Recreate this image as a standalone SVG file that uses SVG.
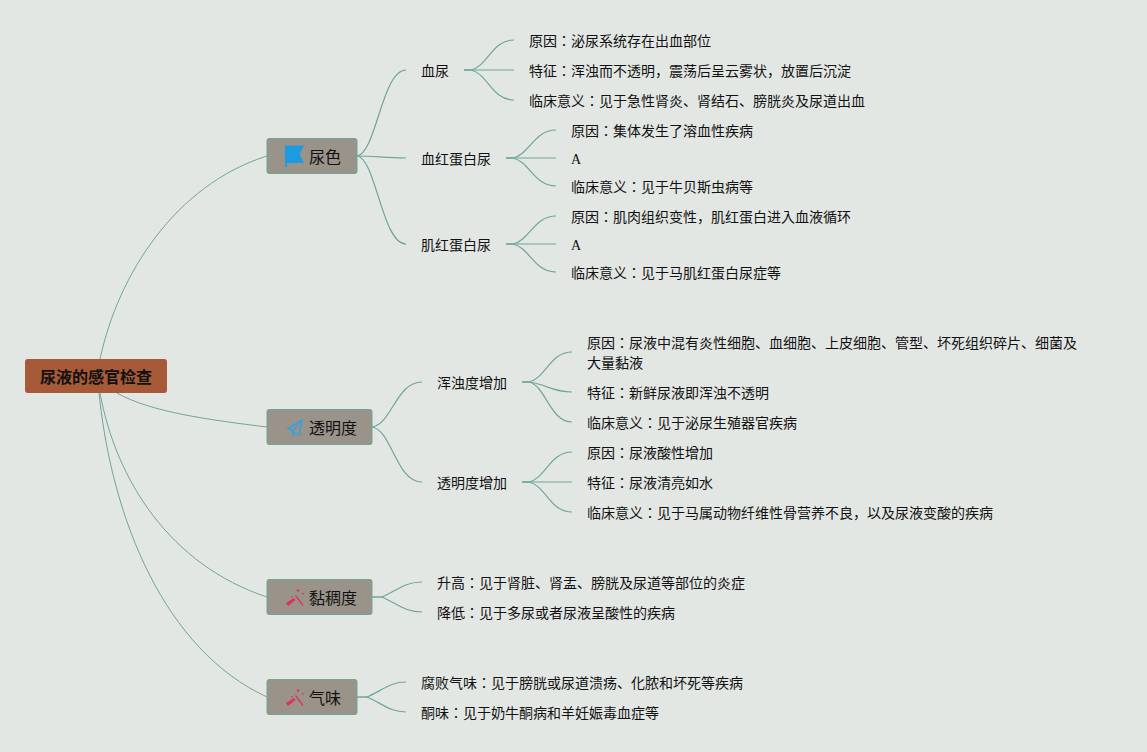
<svg xmlns="http://www.w3.org/2000/svg" width="1147" height="752" viewBox="0 0 1147 752">
<style>
text{font-family:"Liberation Serif","Noto Sans CJK JP",serif;fill:#111}
.t{font-size:14px}
.n{font-size:16px}
.r{font-size:16px;font-weight:bold}
.box{fill:#99938a;stroke:#6fa597;stroke-width:1}
.root{fill:#a65a38}
#connectors path{fill:none;stroke:#6fa597;stroke-width:1.2}
#connectors .m{stroke-width:1}
</style>
<rect width="1147" height="752" fill="#e3e7e4"/>
<g id="connectors">
<path class="m" d="M100 359C118 275 175 185 267 156"/>
<path class="m" d="M117 393C150 412 210 420 267 427"/>
<path class="m" d="M100 393C116 480 170 565 267 597"/>
<path class="m" d="M99 393C112 520 165 650 267 697"/>
<path d="M357 156C376 154 382 70 406 70"/>
<path d="M357 156C375 156 385 158 406 158"/>
<path d="M357 156C376 158 382 244 406 244"/>
<path d="M372 427C392 424 396 382 422 382"/>
<path d="M372 427C392 430 396 482 422 482"/>
<path d="M372 597H382C398 590 405 582 422 582"/>
<path d="M372 597H382C398 604 405 612 422 612"/>
<path d="M357 697H367C383 690 390 682 406 682"/>
<path d="M357 697H367C383 704 390 712 406 712"/>
<path d="M464 70H471C488 66 492 40 514 40"/>
<path d="M464 70H514"/>
<path d="M464 70H471C488 74 492 100 514 100"/>
<path d="M506 158H513C530 154 534 130 556 130"/>
<path d="M506 158H556"/>
<path d="M506 158H513C530 162 534 186 556 186"/>
<path d="M506 244H513C530 240 534 216 556 216"/>
<path d="M506 244H556"/>
<path d="M506 244H513C530 248 534 272 556 272"/>
<path d="M522 382H529C546 378 550 352 572 352"/>
<path d="M522 382H529C546 384 552 392 572 392"/>
<path d="M522 382H529C546 386 550 422 572 422"/>
<path d="M522 482H529C546 478 550 452 572 452"/>
<path d="M522 482H572"/>
<path d="M522 482H529C546 486 550 512 572 512"/>
</g>
<g id="root"><rect class="root" x="25" y="359" width="142" height="34" rx="3"/><text class="r" x="96" y="383" text-anchor="middle">尿液的感官检查</text></g>
<g id="n-color"><rect class="box" x="267" y="138.500" width="90" height="35" rx="2"/>
<path d="M285 145.500H304L299.500 154L304 163H287V167H285Z" fill="#1d9be0"/><text class="n" x="309" y="163">尿色</text></g>
<g id="n-trans"><rect class="box" x="267" y="409.500" width="105" height="35" rx="2"/>
<path d="M303 418.500L286 428.500L291.500 431.500L293 437L296 433.500L300 436Z M300 422.500L290 428.200L292 429.500ZM300.500 423.500L293.500 431L294 433.500L295.500 432L298.800 433.500Z" fill="#3f9fd0" fill-rule="evenodd"/><text class="n" x="309" y="434">透明度</text></g>
<g id="n-visc"><rect class="box" x="267" y="579.500" width="105" height="35" rx="2"/>
<path d="M286 603L294 598L295.500 600L288 606ZM296 595L303.500 605L302.500 606L295 596ZM297.500 589l2 1l-1 2l-2-1ZM302 593l1.500 0l0 1.500l-1.500 0ZM291 596l1.500 0l0 1.500l-1.500 0Z" fill="#e0305f"/><text class="n" x="309" y="604">黏稠度</text></g>
<g id="n-smell"><rect class="box" x="267" y="679.500" width="90" height="35" rx="2"/>
<path d="M286 703L294 698L295.500 700L288 706ZM296 695L303.500 705L302.500 706L295 696ZM297.500 689l2 1l-1 2l-2-1ZM302 693l1.500 0l0 1.500l-1.500 0ZM291 696l1.500 0l0 1.500l-1.500 0Z" fill="#e0305f"/><text class="n" x="309" y="704">气味</text></g>
<g id="labels">
<text class="t" x="421" y="76">血尿</text>
<text class="t" x="529" y="46">原因：泌尿系统存在出血部位</text>
<text class="t" x="529" y="76">特征：浑浊而不透明，震荡后呈云雾状，放置后沉淀</text>
<text class="t" x="529" y="106">临床意义：见于急性肾炎、肾结石、膀胱炎及尿道出血</text>
<text class="t" x="421" y="164">血红蛋白尿</text>
<text class="t" x="571" y="136">原因：集体发生了溶血性疾病</text>
<text class="t" x="571" y="164">A</text>
<text class="t" x="571" y="192">临床意义：见于牛贝斯虫病等</text>
<text class="t" x="421" y="250">肌红蛋白尿</text>
<text class="t" x="571" y="222">原因：肌肉组织变性，肌红蛋白进入血液循环</text>
<text class="t" x="571" y="250">A</text>
<text class="t" x="571" y="278">临床意义：见于马肌红蛋白尿症等</text>
<text class="t" x="437" y="388">浑浊度增加</text>
<text class="t" x="587" y="348">原因：尿液中混有炎性细胞、血细胞、上皮细胞、管型、坏死组织碎片、细菌及</text>
<text class="t" x="587" y="368">大量黏液</text>
<text class="t" x="587" y="398">特征：新鲜尿液即浑浊不透明</text>
<text class="t" x="587" y="428">临床意义：见于泌尿生殖器官疾病</text>
<text class="t" x="437" y="488">透明度增加</text>
<text class="t" x="587" y="458">原因：尿液酸性增加</text>
<text class="t" x="587" y="488">特征：尿液清亮如水</text>
<text class="t" x="587" y="518">临床意义：见于马属动物纤维性骨营养不良，以及尿液变酸的疾病</text>
<text class="t" x="437" y="588">升高：见于肾脏、肾盂、膀胱及尿道等部位的炎症</text>
<text class="t" x="437" y="618">降低：见于多尿或者尿液呈酸性的疾病</text>
<text class="t" x="421" y="688">腐败气味：见于膀胱或尿道溃疡、化脓和坏死等疾病</text>
<text class="t" x="421" y="718">酮味：见于奶牛酮病和羊妊娠毒血症等</text>
</g>
</svg>
